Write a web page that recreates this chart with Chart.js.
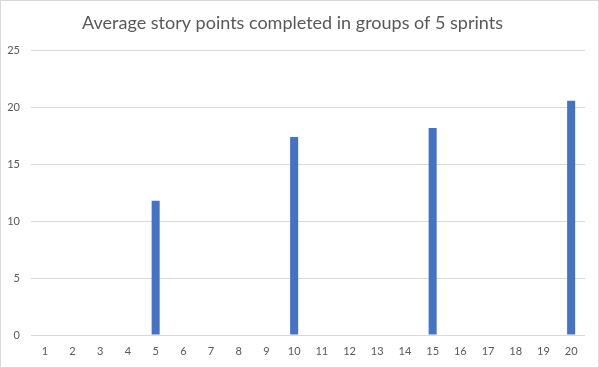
<!DOCTYPE html>
<html>
<head>
<meta charset="utf-8">
<script src="https://cdn.jsdelivr.net/npm/chart.js@4/dist/chart.umd.min.js"></script>
<style>
  html, body { margin: 0; padding: 0; background: #fff; }
  #wrap { width: 599px; height: 368px; position: relative; }
</style>
</head>
<body>
<div id="wrap"><canvas id="c"></canvas></div>
<script>
const chartTitle = "Average story points completed in groups of 5 sprints";
const categories = ["1","2","3","4","5","6","7","8","9","10","11","12","13","14","15","16","17","18","19","20"];
const avgPoints = [null,null,null,null,11.8,null,null,null,null,17.4,null,null,null,null,18.2,null,null,null,null,20.6];
const yTicks = [0, 5, 10, 15, 20, 25];

const FONT = "Lato, 'Open Sans', sans-serif";

const borderPlugin = {
  id: 'outerBorder',
  afterDraw(chart) {
    const ctx = chart.ctx;
    ctx.save();
    ctx.strokeStyle = '#d9d9d9';
    ctx.lineWidth = 1;
    ctx.strokeRect(0.5, 0.5, chart.width - 1, chart.height - 1);
    ctx.restore();
  }
};

new Chart(document.getElementById('c'), {
  type: 'bar',
  data: {
    labels: categories,
    datasets: [{
      data: avgPoints,
      backgroundColor: '#4472c4',
      borderWidth: 0,
      barPercentage: 0.29,
      categoryPercentage: 1.0
    }]
  },
  options: {
    responsive: true,
    maintainAspectRatio: false,
    animation: false,
    events: [],
    layout: { padding: { left: 0, right: 14, top: 0, bottom: 0 } },
    plugins: {
      legend: { display: false },
      tooltip: { enabled: false },
      title: {
        display: true,
        text: chartTitle,
        color: '#595959',
        font: { family: FONT, size: 18, weight: 'normal' },
        padding: { top: 12, bottom: 17 }
      }
    },
    scales: {
      x: {
        grid: { display: false, drawTicks: false },
        border: { display: false },
        ticks: { color: '#595959', font: { family: FONT, size: 11, lineHeight: 1.0 }, padding: 11, maxRotation: 0, autoSkip: false }
      },
      y: {
        min: 0, max: 25,
        afterBuildTicks(axis) { axis.ticks = yTicks.map(v => ({ value: v })); },
        afterFit(axis) { axis.width = 31; },
        grid: { color: '#d9d9d9', drawTicks: false, lineWidth: 1 },
        border: { display: false },
        ticks: { color: '#595959', font: { family: FONT, size: 11 }, padding: 11 }
      }
    }
  },
  plugins: [borderPlugin]
});
</script>
</body>
</html>
